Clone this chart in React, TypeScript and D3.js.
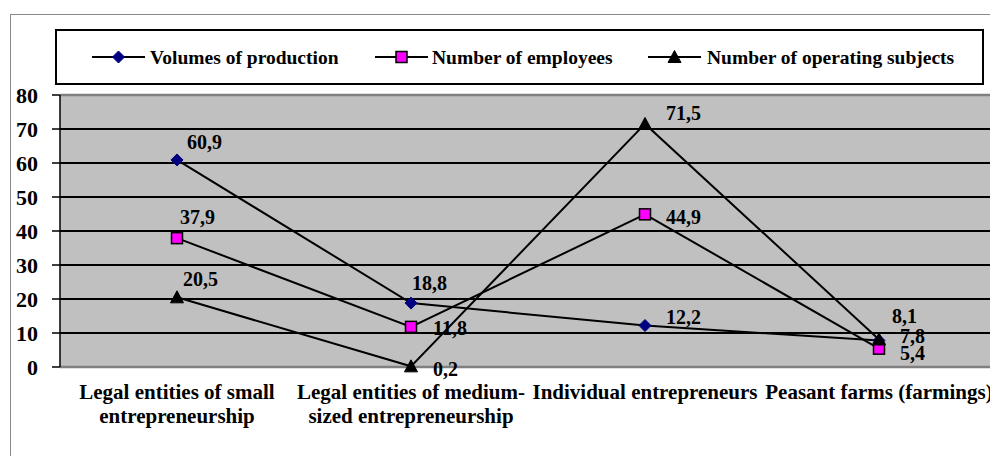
import React from "react";
import * as d3 from "d3";

const categories: string[][] = [
  ["Legal entities of small", "entrepreneurship"],
  ["Legal entities of medium-", "sized entrepreneurship"],
  ["Individual entrepreneurs"],
  ["Peasant farms (farmings)"],
];
const volumes = [60.9, 18.8, 12.2, 7.8];
const employees = [37.9, 11.8, 44.9, 5.4];
const subjects = [20.5, 0.2, 71.5, 8.1];
const seriesNames = ["Volumes of production", "Number of employees", "Number of operating subjects"];
const yTicks = [0, 10, 20, 30, 40, 50, 60, 70, 80];

// label offsets (styling): [dx to text start, dy to text centre]
const labelOffsets: [number, number][][] = [
  [[10, -18], [1, -20], [21, -9], [21, -4]],
  [[3, -21], [22, 1], [21, 3], [21, 4]],
  [[6, -18], [22, 3], [21, -11], [13, -23]],
];

const W = 990, H = 456;
const plot = { left: 60, right: 996, top: 95, bottom: 367 };
const FONT = "'Liberation Serif', 'Times New Roman', serif";

function Marker({ kind, x, y }: { kind: number; x: number; y: number }) {
  if (kind === 0) {
    const s = 6;
    return <path d={`M${x},${y - s}L${x + s},${y}L${x},${y + s}L${x - s},${y}Z`} fill="#000080" stroke="#000080" strokeWidth={1} />;
  }
  if (kind === 1) {
    return <rect x={x - 5.5} y={y - 5.5} width={11} height={11} fill="#FF00FF" stroke="#000" strokeWidth={1.5} />;
  }
  const s = 6.5;
  return <path d={`M${x},${y - s}L${x + s},${y + s * 0.85}L${x - s},${y + s * 0.85}Z`} fill="#000" stroke="#000" strokeWidth={1} />;
}

export default function App() {
  const x = d3.scaleBand<number>().domain(d3.range(categories.length)).range([plot.left, plot.right]);
  const y = d3.scaleLinear().domain([0, 80]).range([plot.bottom, plot.top]);
  const cx = (i: number) => (x(i) as number) + x.bandwidth() / 2;
  const series = [volumes, employees, subjects];
  const line = d3.line<number>().x((_, i) => cx(i)).y((d) => y(d));
  const fmt = (v: number) => v.toFixed(1).replace(".", ",");

  const legendItems = [
    { lx: 92, tx: 150 },
    { lx: 375, tx: 432 },
    { lx: 648, tx: 707 },
  ];

  return (
    <div style={{ position: "fixed", left: 0, top: 0, width: W, height: H, background: "#fff" }}>
      <svg width={W} height={H} style={{ display: "block", fontFamily: FONT }}>
        <rect x={10.5} y={14.5} width={W + 20} height={H + 20} fill="#fff" stroke="#8a8a8a" strokeWidth={1} />
        {/* legend */}
        <rect x={56} y={30} width={927} height={54} fill="#fff" stroke="#000" strokeWidth={2} />
        {legendItems.map((it, k) => (
          <g key={k}>
            <line x1={it.lx} x2={it.lx + 53} y1={57} y2={57} stroke="#000" strokeWidth={2} />
            <Marker kind={k} x={it.lx + 26.5} y={57} />
            <text x={it.tx} y={57} dominantBaseline="central" fontSize={19.5} fontWeight="bold" fill="#000">
              {seriesNames[k]}
            </text>
          </g>
        ))}
        {/* plot area */}
        <rect x={plot.left} y={plot.top} width={plot.right - plot.left} height={plot.bottom - plot.top} fill="#C0C0C0" />
        {yTicks.filter((t) => t > 0 && t < 80).map((t) => (
          <line key={t} x1={plot.left} x2={plot.right} y1={y(t)} y2={y(t)} stroke="#000" strokeWidth={2} />
        ))}
        <line x1={plot.left} x2={plot.right} y1={plot.top} y2={plot.top} stroke="#808080" strokeWidth={2.5} />
        <line x1={plot.left} x2={plot.right} y1={plot.bottom} y2={plot.bottom} stroke="#808080" strokeWidth={2.5} />
        <line x1={plot.left} x2={plot.left} y1={plot.top} y2={plot.bottom} stroke="#000" strokeWidth={1.5} />
        {yTicks.map((t) => (
          <g key={t}>
            <line x1={52} x2={plot.left} y1={y(t)} y2={y(t)} stroke="#000" strokeWidth={1.5} />
            <text x={38} y={y(t)} textAnchor="end" dominantBaseline="central" fontSize={22} fontWeight="bold" fill="#000">
              {t}
            </text>
          </g>
        ))}
        {/* lines */}
        {series.map((s, k) => (
          <path key={k} d={line(s) || ""} fill="none" stroke="#000" strokeWidth={2} />
        ))}
        {series.map((s, k) =>
          s.map((v, i) => <Marker key={`${k}-${i}`} kind={k} x={cx(i)} y={y(v)} />)
        )}
        {series.map((s, k) =>
          s.map((v, i) => (
            <text
              key={`l${k}-${i}`}
              x={cx(i) + labelOffsets[k][i][0]}
              y={y(v) + labelOffsets[k][i][1]}
              dominantBaseline="central"
              fontSize={20}
              fontWeight="bold"
              fill="#000"
            >
              {fmt(v)}
            </text>
          ))
        )}
        {/* category labels */}
        {categories.map((lines, i) => (
          <text key={i} textAnchor="middle" fontSize={21} fontWeight="bold" fill="#000">
            {lines.map((ln, j) => (
              <tspan key={j} x={cx(i)} y={392 + j * 24} dominantBaseline="central">
                {ln}
              </tspan>
            ))}
          </text>
        ))}
      </svg>
    </div>
  );
}
